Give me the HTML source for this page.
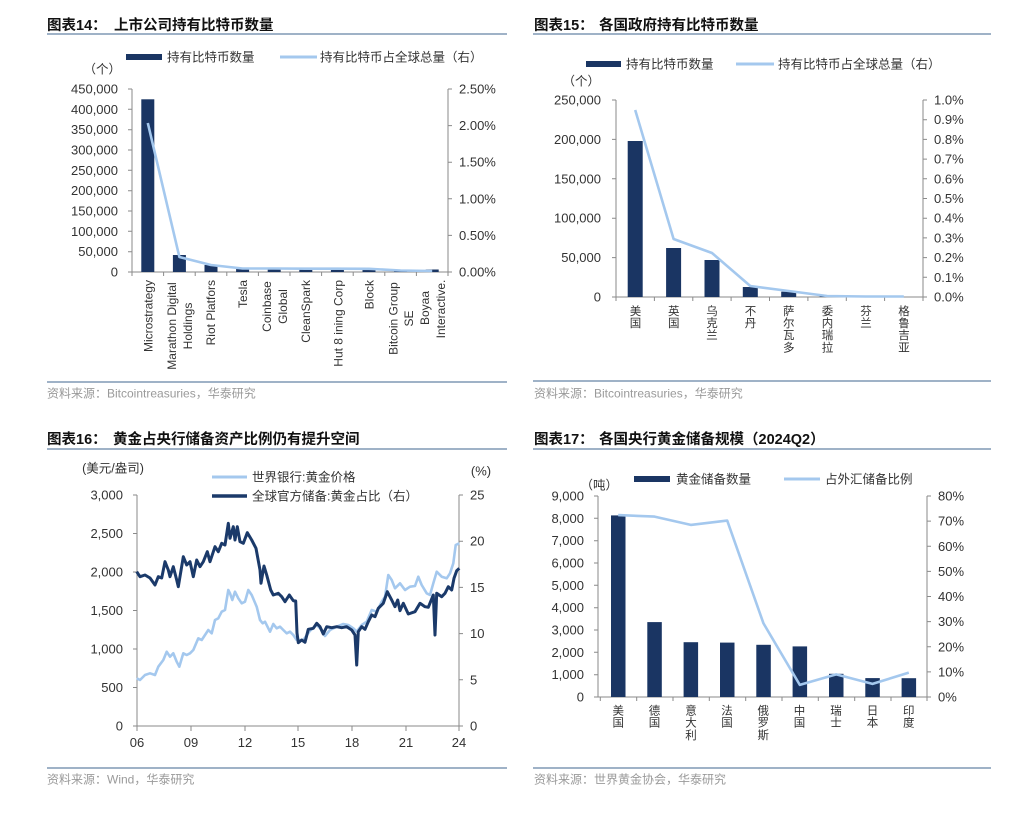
<!DOCTYPE html>
<html><head><meta charset="utf-8"><style>
html,body{margin:0;padding:0;background:#fff;}
svg{display:block;}
text{font-family:"Liberation Sans","Noto Sans CJK SC",sans-serif;}
.tt{font-size:14.5px;font-weight:bold;fill:#111;}
.tk{font-size:13px;fill:#333;}
.lg{font-size:12.5px;fill:#333;}
.src{font-size:12px;fill:#9a9a9a;}
.xl{font-size:12px;fill:#333;}
.cj{font-size:11.5px;fill:#333;font-family:"Noto Serif CJK SC","Noto Sans CJK SC",serif;}
.ax{stroke:#8a8a8a;stroke-width:1;fill:none;}
.rule{stroke:#9fb2c7;stroke-width:2;}
.bar{fill:#1a3563;}
.ln{fill:none;stroke:#a4c8ee;stroke-width:2.6;stroke-linejoin:round;}
.dk{fill:none;stroke:#1b3a6a;stroke-width:3;stroke-linejoin:round;}
</style></head><body>
<svg width="1036" height="822" viewBox="0 0 1036 822" xmlns="http://www.w3.org/2000/svg">
<rect width="1036" height="822" fill="#fff"/>

<!-- ================= Chart 14 ================= -->
<text class="tt" x="47" y="30">图表14：</text>
<text class="tt" x="114" y="30">上市公司持有比特币数量</text>
<line class="rule" x1="47" y1="34" x2="507" y2="34"/>
<rect x="126" y="54" width="36" height="6" class="bar"/>
<text class="lg" x="167" y="61.5">持有比特币数量</text>
<line x1="280" y1="57" x2="317" y2="57" stroke="#a4c8ee" stroke-width="3"/>
<text class="lg" x="320" y="61.5">持有比特币占全球总量（右）</text>
<text class="lg" x="121" y="73.5" text-anchor="end">（个）</text>

<g class="ax">
<line x1="132" y1="89" x2="132" y2="272"/>
<line x1="132" y1="272" x2="448" y2="272"/>
<line x1="448" y1="89" x2="448" y2="272"/>
<path d="M128 89h4M128 109.3h4M128 129.7h4M128 150h4M128 170.3h4M128 190.7h4M128 211h4M128 231.3h4M128 251.7h4M128 272h4"/>
<path d="M448 89h4M448 125.6h4M448 162.2h4M448 198.8h4M448 235.4h4M448 272h4"/>
<path d="M132 272v4M163.6 272v4M195.2 272v4M226.8 272v4M258.4 272v4M290 272v4M321.6 272v4M353.2 272v4M384.8 272v4M416.4 272v4M448 272v4"/>
</g>
<g class="tk" text-anchor="end">
<text x="118" y="93.5">450,000</text>
<text x="118" y="113.8">400,000</text>
<text x="118" y="134.2">350,000</text>
<text x="118" y="154.5">300,000</text>
<text x="118" y="174.8">250,000</text>
<text x="118" y="195.2">200,000</text>
<text x="118" y="215.5">150,000</text>
<text x="118" y="235.8">100,000</text>
<text x="118" y="256.2">50,000</text>
<text x="118" y="276.5">0</text>
</g>
<g class="tk">
<text x="459" y="93.5">2.50%</text>
<text x="459" y="130.1">2.00%</text>
<text x="459" y="166.7">1.50%</text>
<text x="459" y="203.3">1.00%</text>
<text x="459" y="239.9">0.50%</text>
<text x="459" y="276.5">0.00%</text>
</g>
<g>
<rect class="bar" x="141.3" y="99.3" width="13" height="172.7"/>
<rect class="bar" x="172.9" y="255" width="13" height="17"/>
<rect class="bar" x="204.5" y="265" width="13" height="7"/>
<rect class="bar" x="236.1" y="268.3" width="13" height="3.7"/>
<rect class="bar" x="267.7" y="267.7" width="13" height="4.3"/>
<rect class="bar" x="299.3" y="268.3" width="13" height="3.7"/>
<rect class="bar" x="330.9" y="268.3" width="13" height="3.7"/>
<rect class="bar" x="362.5" y="268.3" width="13" height="3.7"/>
<rect class="bar" x="394.1" y="270.5" width="13" height="1.5"/>
<rect class="bar" x="425.7" y="269.5" width="13" height="2.5"/>
</g>
<polyline class="ln" points="147.8,123 179.4,257 211,265 242.6,268.5 274.2,268.5 305.8,268.7 337.4,268.7 369,268.8 400.6,270.5 432.2,271"/>
<g class="xl" text-anchor="end">
<text transform="translate(148.3,280) rotate(-90)" dy="0.35em">Microstrategy</text>
<text transform="translate(210.7,280) rotate(-90)" dy="0.35em">Riot Platfors</text>
<text transform="translate(242.7,280) rotate(-90)" dy="0.35em">Tesla</text>
<text transform="translate(306,280) rotate(-90)" dy="0.35em">CleanSpark</text>
<text transform="translate(338.3,280) rotate(-90)" dy="0.35em">Hut 8 ining Corp</text>
<text transform="translate(369.3,280) rotate(-90)" dy="0.35em">Block</text>
</g>
<g class="xl" text-anchor="middle">
<text transform="translate(172,326) rotate(-90)" dy="0.35em">Marathon Digital</text>
<text transform="translate(188,326) rotate(-90)" dy="0.35em">Holdings</text>
<text transform="translate(266.7,306.5) rotate(-90)" dy="0.35em">Coinbase</text>
<text transform="translate(282.7,306.5) rotate(-90)" dy="0.35em">Global</text>
<text transform="translate(393.3,318.5) rotate(-90)" dy="0.35em">Bitcoin Group</text>
<text transform="translate(408.8,318.5) rotate(-90)" dy="0.35em">SE</text>
<text transform="translate(425,308) rotate(-90)" dy="0.35em">Boyaa</text>
<text transform="translate(440.7,309) rotate(-90)" dy="0.35em">Interactive.</text>
</g>
<line class="rule" x1="47" y1="382" x2="507" y2="382"/>
<text class="src" x="47" y="397.5">资料来源：Bitcointreasuries，华泰研究</text>

<!-- ================= Chart 15 ================= -->
<text class="tt" x="534" y="30">图表15：</text>
<text class="tt" x="599" y="30">各国政府持有比特币数量</text>
<line class="rule" x1="533" y1="34" x2="991" y2="34"/>
<rect x="586" y="61" width="35" height="6" class="bar"/>
<text class="lg" x="626" y="68.5">持有比特币数量</text>
<line x1="736" y1="64" x2="774" y2="64" stroke="#a4c8ee" stroke-width="3"/>
<text class="lg" x="778" y="68.5">持有比特币占全球总量（右）</text>
<text class="lg" x="600" y="85.5" text-anchor="end">（个）</text>

<g class="ax">
<line x1="616" y1="100" x2="616" y2="297"/>
<line x1="616" y1="297" x2="923" y2="297"/>
<line x1="923" y1="100" x2="923" y2="297"/>
<path d="M612 100h4M612 139.4h4M612 178.8h4M612 218.2h4M612 257.6h4M612 297h4"/>
<path d="M923 100h4M923 119.7h4M923 139.4h4M923 159.1h4M923 178.8h4M923 198.5h4M923 218.2h4M923 237.9h4M923 257.6h4M923 277.3h4M923 297h4"/>
<path d="M616 297v4M654.4 297v4M692.8 297v4M731.1 297v4M769.5 297v4M807.9 297v4M846.3 297v4M884.6 297v4M923 297v4"/>
</g>
<g class="tk" text-anchor="end">
<text x="601" y="104.5">250,000</text>
<text x="601" y="143.9">200,000</text>
<text x="601" y="183.3">150,000</text>
<text x="601" y="222.7">100,000</text>
<text x="601" y="262.1">50,000</text>
<text x="601" y="301.5">0</text>
</g>
<g class="tk">
<text x="934" y="104.5">1.0%</text>
<text x="934" y="124.2">0.9%</text>
<text x="934" y="143.9">0.8%</text>
<text x="934" y="163.6">0.7%</text>
<text x="934" y="183.3">0.6%</text>
<text x="934" y="203">0.5%</text>
<text x="934" y="222.7">0.4%</text>
<text x="934" y="242.4">0.3%</text>
<text x="934" y="262.1">0.2%</text>
<text x="934" y="281.8">0.1%</text>
<text x="934" y="301.5">0.0%</text>
</g>
<g>
<rect class="bar" x="627.7" y="141" width="15" height="156"/>
<rect class="bar" x="666.1" y="248" width="15" height="49"/>
<rect class="bar" x="704.5" y="260" width="15" height="37"/>
<rect class="bar" x="742.8" y="287" width="15" height="10"/>
<rect class="bar" x="781.2" y="291.7" width="15" height="5.3"/>
<rect class="bar" x="819.6" y="296.3" width="15" height="0.7"/>
</g>
<polyline class="ln" points="635.2,110 673.6,239 712,253 750.3,286 788.7,291 827.1,296 865.4,296.5 903.8,296.5"/>
<g class="cj" text-anchor="middle" dominant-baseline="central">
<text x="635.5" y="312">美</text><text x="635.5" y="324">国</text>
<text x="673.8" y="312">英</text><text x="673.8" y="324">国</text>
<text x="712" y="312">乌</text><text x="712" y="324">克</text><text x="712" y="336">兰</text>
<text x="750.5" y="312">不</text><text x="750.5" y="324">丹</text>
<text x="788.7" y="312">萨</text><text x="788.7" y="324">尔</text><text x="788.7" y="336">瓦</text><text x="788.7" y="348.5">多</text>
<text x="827.5" y="312">委</text><text x="827.5" y="324">内</text><text x="827.5" y="336">瑞</text><text x="827.5" y="348.5">拉</text>
<text x="866" y="312">芬</text><text x="866" y="324">兰</text>
<text x="904" y="312">格</text><text x="904" y="324">鲁</text><text x="904" y="336">吉</text><text x="904" y="348.5">亚</text>
</g>
<line class="rule" x1="533" y1="381" x2="991" y2="381"/>
<text class="src" x="534" y="397.5">资料来源：Bitcointreasuries，华泰研究</text>

<!-- ================= Chart 16 ================= -->
<text class="tt" x="47" y="444">图表16：</text>
<text class="tt" x="113" y="444">黄金占央行储备资产比例仍有提升空间</text>
<line class="rule" x1="47" y1="449" x2="507" y2="449"/>
<text class="lg" x="113" y="472.5" text-anchor="middle">(美元/盎司)</text>
<text class="tk" x="481" y="475.5" text-anchor="middle">(%)</text>
<line x1="212" y1="477" x2="247" y2="477" stroke="#a4c8ee" stroke-width="3"/>
<text class="lg" x="252" y="481.5">世界银行:黄金价格</text>
<line x1="212" y1="496" x2="247" y2="496" stroke="#1b3a6a" stroke-width="3.5"/>
<text class="lg" x="252" y="500.5">全球官方储备:黄金占比（右）</text>

<g class="ax">
<line x1="137" y1="495" x2="137" y2="726"/>
<line x1="137" y1="726" x2="459" y2="726"/>
<line x1="459" y1="495" x2="459" y2="726"/>
<path d="M133 495h4M133 533.5h4M133 572h4M133 610.5h4M133 649h4M133 687.5h4M133 726h4"/>
<path d="M459 495h4M459 541.2h4M459 587.4h4M459 633.6h4M459 679.8h4M459 726h4"/>
<path d="M137 726v5M191 726v5M245 726v5M298 726v5M352 726v5M406 726v5M459 726v5"/>
</g>
<g class="tk" text-anchor="end">
<text x="123" y="499.5">3,000</text>
<text x="123" y="538">2,500</text>
<text x="123" y="576.5">2,000</text>
<text x="123" y="615">1,500</text>
<text x="123" y="653.5">1,000</text>
<text x="123" y="692">500</text>
<text x="123" y="730.5">0</text>
</g>
<g class="tk">
<text x="470" y="499.5">25</text>
<text x="470" y="545.7">20</text>
<text x="470" y="591.9">15</text>
<text x="470" y="638.1">10</text>
<text x="470" y="684.3">5</text>
<text x="470" y="730.5">0</text>
</g>
<g class="tk" text-anchor="middle">
<text x="137" y="747">06</text>
<text x="191" y="747">09</text>
<text x="245" y="747">12</text>
<text x="298" y="747">15</text>
<text x="352" y="747">18</text>
<text x="406" y="747">21</text>
<text x="459" y="747">24</text>
</g>
<polyline class="ln" points="136.7,678.3 140,680 145,675 150,673.3 155,675 158.3,666.7 163.3,660 166.7,651.7 170,656.7 173.3,653.3 176.7,661.7 179.3,666.7 183.3,653.3 186.7,655 190,653.3 193.3,650 198.3,638.3 201.7,640 205,635 208.3,630 211.7,633.3 215,620 218.3,618.3 221.7,611.7 225,610 228.3,590 230,593.3 232.3,600 235,591.7 238.3,598.3 241.7,603.3 245,601.7 248.3,590 251.7,595 256.7,606.7 260,620 262.7,623.3 265,621.7 270,631.7 273.3,624 276.7,628.3 280,626.7 283.3,630 286.7,633.3 290,631.7 293.3,635 296.7,640 303.3,640 310,630.7 316.7,625 321.7,630 325,636 330,630 336.7,626.7 343.3,624 348.3,625 353.3,628.3 356.7,631.7 361.7,625 366.7,621.7 371.7,610 376.7,611.7 381.7,601.7 385,596.7 388.3,575 391.7,580 395,588.3 400,583.3 405,590 410,586.7 415,586 418.3,576.7 421.7,585 426.7,593.3 430,595 433.3,583.3 436.7,571.7 441.7,576.7 446.7,578.3 450,573.3 453.3,563.3 455.7,545 459.3,543.3"/>
<polyline class="dk" points="136.7,571.7 140,576.7 145,575 150,578 155,585 158.3,576.7 161.7,578 165,561.7 168.3,570 170,576.7 173.3,566.7 176.7,580 178.3,586.7 183.3,556.7 186.7,565 190,561.7 193.3,576.7 196.7,560 200,566.7 203.3,561.7 207.3,551.7 210,561.7 215,546.7 218.3,551.7 221.7,543.3 225,545 228.3,523.3 230,538.3 233.3,526.7 235,540 237.3,526.7 240,541.7 243.3,543.3 247.3,532.7 251.7,540 256,548.3 260,570 261,583.3 264,566 266.7,575 270.7,590 273.3,595 278.3,593.3 281.7,596.7 285,601.7 289.3,595 293.3,600.7 295.7,601 297,633 298.3,642.7 301.7,640 305,642.3 308.3,629.3 313.3,628.3 316.7,623.3 320,626.7 323.3,634 326.7,626.7 331.7,627.7 336.7,626.7 341.7,627.7 346.7,626.7 351.7,630 355,635 356.7,665 358.3,631.7 361.7,626.7 365,629.3 368.3,621.7 371.7,615 375,616.7 378.3,608.3 383.3,603.3 387.3,591.7 391.7,600 395,606.7 397.7,600 400,610.7 403.3,603.3 408.3,614 415,611.7 420,603.3 425,606.7 428.3,607.3 433.3,595 435,635 436.7,593.3 441.7,596.7 445,593.3 448.3,586.7 451.7,590 454,578.3 456.7,570.7 459.3,568.3"/>
<line class="rule" x1="47" y1="768" x2="507" y2="768"/>
<text class="src" x="47" y="783.5">资料来源：Wind，华泰研究</text>

<!-- ================= Chart 17 ================= -->
<text class="tt" x="534" y="444">图表17：</text>
<text class="tt" x="599" y="444">各国央行黄金储备规模（2024Q2）</text>
<line class="rule" x1="533" y1="449" x2="991" y2="449"/>
<rect x="634" y="476" width="36" height="6" class="bar"/>
<text class="lg" x="676" y="483.5">黄金储备数量</text>
<line x1="784" y1="479" x2="820" y2="479" stroke="#a4c8ee" stroke-width="3"/>
<text class="lg" x="825" y="483.5">占外汇储备比例</text>
<text class="lg" x="618" y="489.5" text-anchor="end">（吨）</text>

<g class="ax">
<line x1="598" y1="496" x2="598" y2="697"/>
<line x1="598" y1="697" x2="927" y2="697"/>
<line x1="927" y1="496" x2="927" y2="697"/>
<path d="M594 496h4M594 518.3h4M594 540.7h4M594 563h4M594 585.3h4M594 607.7h4M594 630h4M594 652.3h4M594 674.7h4M594 697h4"/>
<path d="M927 496h4M927 521.1h4M927 546.3h4M927 571.4h4M927 596.5h4M927 621.6h4M927 646.8h4M927 671.9h4M927 697h4"/>
<path d="M600.3 697v4M636.7 697v4M673 697v4M709.3 697v4M745.7 697v4M782 697v4M818.3 697v4M854.7 697v4M891 697v4M927 697v4"/>
</g>
<g class="tk" text-anchor="end">
<text x="584" y="500.5">9,000</text>
<text x="584" y="522.8">8,000</text>
<text x="584" y="545.2">7,000</text>
<text x="584" y="567.5">6,000</text>
<text x="584" y="589.8">5,000</text>
<text x="584" y="612.2">4,000</text>
<text x="584" y="634.5">3,000</text>
<text x="584" y="656.8">2,000</text>
<text x="584" y="679.2">1,000</text>
<text x="584" y="701.5">0</text>
</g>
<g class="tk">
<text x="938" y="500.5">80%</text>
<text x="938" y="525.6">70%</text>
<text x="938" y="550.8">60%</text>
<text x="938" y="575.9">50%</text>
<text x="938" y="601">40%</text>
<text x="938" y="626.1">30%</text>
<text x="938" y="651.3">20%</text>
<text x="938" y="676.4">10%</text>
<text x="938" y="701.5">0%</text>
</g>
<g>
<rect class="bar" x="611" y="515.4" width="14.5" height="181.6"/>
<rect class="bar" x="647.3" y="622.1" width="14.5" height="74.9"/>
<rect class="bar" x="683.6" y="642.2" width="14.5" height="54.8"/>
<rect class="bar" x="720" y="642.6" width="14.5" height="54.4"/>
<rect class="bar" x="756.3" y="644.8" width="14.5" height="52.2"/>
<rect class="bar" x="792.6" y="646.4" width="14.5" height="50.6"/>
<rect class="bar" x="829" y="673.8" width="14.5" height="23.2"/>
<rect class="bar" x="865.3" y="678.1" width="14.5" height="18.9"/>
<rect class="bar" x="901.6" y="678.2" width="14.5" height="18.8"/>
</g>
<polyline class="ln" points="618.2,515.1 654.5,516.6 690.8,524.9 727.2,520.6 763.5,623.4 799.8,684.9 836.2,674.4 872.5,683.9 908.8,672.6"/>
<g class="cj" text-anchor="middle" dominant-baseline="central">
<text x="618.3" y="711.5">美</text><text x="618.3" y="723.5">国</text>
<text x="654.5" y="711.5">德</text><text x="654.5" y="723.5">国</text>
<text x="691" y="711.5">意</text><text x="691" y="723.5">大</text><text x="691" y="735.8">利</text>
<text x="727" y="711.5">法</text><text x="727" y="723.5">国</text>
<text x="763.3" y="711.5">俄</text><text x="763.3" y="723.5">罗</text><text x="763.3" y="735.8">斯</text>
<text x="799.5" y="711.5">中</text><text x="799.5" y="723.5">国</text>
<text x="836" y="711.5">瑞</text><text x="836" y="723.5">士</text>
<text x="872.5" y="711.5">日</text><text x="872.5" y="723.5">本</text>
<text x="908.7" y="711.5">印</text><text x="908.7" y="723.5">度</text>
</g>
<line class="rule" x1="533" y1="768" x2="991" y2="768"/>
<text class="src" x="534" y="783.5">资料来源：世界黄金协会，华泰研究</text>
</svg>
</body></html>
